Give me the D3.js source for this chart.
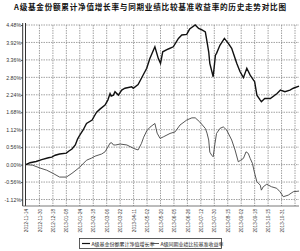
<!DOCTYPE html>
<html><head><meta charset="utf-8">
<script src="https://cdn.jsdelivr.net/npm/d3@7"></script>
<style>html,body{margin:0;padding:0;background:#fff;}svg{display:block;}</style>
</head><body>
<svg id="c" width="300" height="251"></svg>
<script>
const title = "A级基金份额累计净值增长率与同期业绩比较基准收益率的历史走势对比图";
const seriesNames = ["A级基金份额累计净值增长率", "A级同期业绩比较基准收益率"];
const yTicks = [4.48, 3.92, 3.36, 2.80, 2.24, 1.68, 1.12, 0.56, 0.00, -0.56, -1.12];
const xTickLabels = ["2012-11-14","2012-11-30","2012-12-18","2013-01-08","2013-01-24","2013-02-18","2013-03-06","2013-03-22","2013-04-11","2013-05-02","2013-05-20","2013-06-05","2013-06-26","2013-07-12","2013-07-30","2013-08-15","2013-09-02","2013-09-18","2013-10-15","2013-10-31"];
const tickStep = 12; // trading days between labels

const navDays = [0,3.6,9,14,20,23,26,30,36,38,41,44,46,48,51,54,59,61,63,66,70.5,73,75,76,78,79.4,82.4,85.4,88.3,94.3,95.7,100,103,107.7,110.6,115,118,120,122,127,131.4,136,139,143.4,146,151,154,157,160,161,163,164,167,169,170,173,177,180.5,183.5,185.6,188,191,194,197,200,203,204,206,209,210,213,218,224,227,231,235.5,238.5,243.6];
const navValues = [0,0.06,0.10,0.16,0.22,0.24,0.30,0.34,0.37,0.43,0.50,0.63,0.82,0.95,1.11,1.32,1.43,1.56,1.68,1.78,1.91,2.07,2.28,2.20,2.23,2.34,2.23,2.39,2.45,2.50,2.45,2.57,2.77,3.09,3.41,3.78,3.41,3.25,3.62,3.71,3.78,4.05,4.16,4.18,4.35,4.48,4.37,4.32,4.26,4.05,3.62,3.25,2.82,3.51,3.57,3.83,4.05,3.89,3.73,3.51,3.25,2.98,2.79,3.09,2.87,2.71,2.66,2.23,2.07,2.02,2.12,2.12,2.28,2.39,2.34,2.39,2.45,2.52];

const benchDays = [0,6,12.5,18.5,24,30,36,41,44.6,48,54,58.6,61.6,67.5,70.5,73,75,76.5,78,80,84,90,96,100,103,105,107.7,110.6,115,117,119.6,122.5,128.5,133,137.4,143.4,148,151,155,160,161.5,163,164,165.7,167,168.6,170,173,176,179,183.5,186.5,189.4,191.5,194,196.3,198.3,200,202,204,206,209,210,211.7,214.8,219,223.7,226.6,229.6,234,238.5,243.6];
const benchValues = [0,-0.02,-0.11,-0.18,-0.28,-0.40,-0.40,-0.28,-0.18,-0.08,0.14,0.21,0.27,0.34,0.41,0.56,0.69,0.70,0.63,0.63,0.66,0.63,0.52,0.47,0.68,0.88,1.08,1.20,1.32,1.01,0.84,0.89,1.00,1.05,1.27,1.43,1.50,1.50,1.37,1.16,1.01,0.79,0.40,0.30,0.25,0.68,1.00,1.16,1.21,1.11,0.79,0.47,0.09,0.14,0.20,0.41,0.36,0.20,0.04,-0.28,-0.55,-0.66,-0.82,-0.71,-0.63,-0.71,-0.76,-0.87,-1.03,-0.98,-0.87,-0.85];

const svg = d3.select("#c");
const pL = 26, pR = 299, pT = 25, pB = 206;

const x = d3.scaleLinear().domain([0, 240]).range([pL, 295]);
const y = d3.scaleLinear().domain([-1.12, 4.48]).range([199.5, 25]);

// title
svg.append("text").attr("x", 150).attr("y", 10).attr("text-anchor", "middle")
  .attr("font-family", "Noto Sans CJK SC").attr("font-weight", "bold").attr("font-size", 7.6)
  .attr("textLength", 272).attr("lengthAdjust", "spacing").attr("fill", "#111").text(title);

// horizontal gridlines
svg.append("g").selectAll("line").data(yTicks).join("line")
  .attr("x1", pL).attr("x2", pR).attr("y1", d => y(d)).attr("y2", d => y(d))
  .attr("stroke", "#8a8a8a").attr("stroke-width", 0.8).attr("stroke-dasharray", "1.5,1");

// vertical gridlines
const xGrid = d3.range(0, 21).map(i => i * tickStep);
svg.append("g").selectAll("line").data(xGrid.slice(1)).join("line")
  .attr("x1", d => x(d)).attr("x2", d => x(d)).attr("y1", pT).attr("y2", pB)
  .attr("stroke", "#8a8a8a").attr("stroke-width", 0.8).attr("stroke-dasharray", "1.5,1");

// y axis labels
const yAxis = d3.axisLeft(y).tickValues(yTicks).tickSize(2).tickFormat(d => d.toFixed(2) + "%");
const ga = svg.append("g").attr("transform", `translate(${pL - 3},0)`).call(yAxis);
ga.select(".domain").remove();
ga.selectAll("line").attr("stroke", "#555");
ga.selectAll("text").attr("font-family", "Liberation Sans").attr("font-size", 5.2).attr("fill", "#333").attr("x", -2);

// double left axis line
svg.append("line").attr("x1", pL - 3.3).attr("x2", pL - 3.3).attr("y1", pT - 2).attr("y2", pB).attr("stroke", "#333").attr("stroke-width", 1);
svg.append("line").attr("x1", pL - 0.5).attr("x2", pL - 0.5).attr("y1", pT - 2).attr("y2", pB).attr("stroke", "#333").attr("stroke-width", 1);
// bottom axis line
svg.append("line").attr("x1", pL - 3.3).attr("x2", pR).attr("y1", pB).attr("y2", pB).attr("stroke", "#555").attr("stroke-width", 0.8);

// x labels
const xAxis = d3.axisBottom(x).tickValues(xTickLabels.map((d, i) => i * tickStep)).tickSize(0).tickFormat((d, i) => xTickLabels[i]);
const gx = svg.append("g").attr("transform", `translate(0,${pB})`).call(xAxis);
gx.select(".domain").remove();
gx.selectAll("text").attr("font-family", "Liberation Sans").attr("font-size", 4.6).attr("fill", "#333")
  .attr("text-anchor", "end").attr("dy", "0.35em").attr("y", 0)
  .attr("transform", "translate(0,3) rotate(-90)");

// lines
svg.append("clipPath").attr("id", "pc").append("rect").attr("x", pL).attr("y", 20).attr("width", pR - pL + 1).attr("height", pB - 20);
const line = d3.line().x(d => x(d[0])).y(d => y(d[1]));
svg.append("path").datum(benchDays.map((d, i) => [d, benchValues[i]]))
  .attr("d", line).attr("fill", "none").attr("stroke", "#444").attr("stroke-width", 0.9).attr("clip-path", "url(#pc)");
svg.append("path").datum(navDays.map((d, i) => [d, navValues[i]]))
  .attr("d", line).attr("fill", "none").attr("stroke", "#111").attr("stroke-width", 1.4).attr("clip-path", "url(#pc)");

// legend
const lg = svg.append("g");
lg.append("rect").attr("x", 79.5).attr("y", 238.5).attr("width", 142).attr("height", 10).attr("fill", "#fff").attr("stroke", "#333").attr("stroke-width", 0.8);
const items = [{x: 82, w: 8}, {x: 151, w: 8}];
items.forEach((it, i) => {
  lg.append("line").attr("x1", it.x).attr("x2", it.x + it.w).attr("y1", 243.5).attr("y2", 243.5)
    .attr("stroke", i === 0 ? "#111" : "#444").attr("stroke-width", i === 0 ? 1.2 : 0.9);
  lg.append("text").attr("x", it.x + it.w + 1.5).attr("y", 245.5)
    .attr("font-family", "Noto Sans CJK SC").attr("font-size", 5).attr("fill", "#222").text(seriesNames[i]);
});
</script>
</body></html>
